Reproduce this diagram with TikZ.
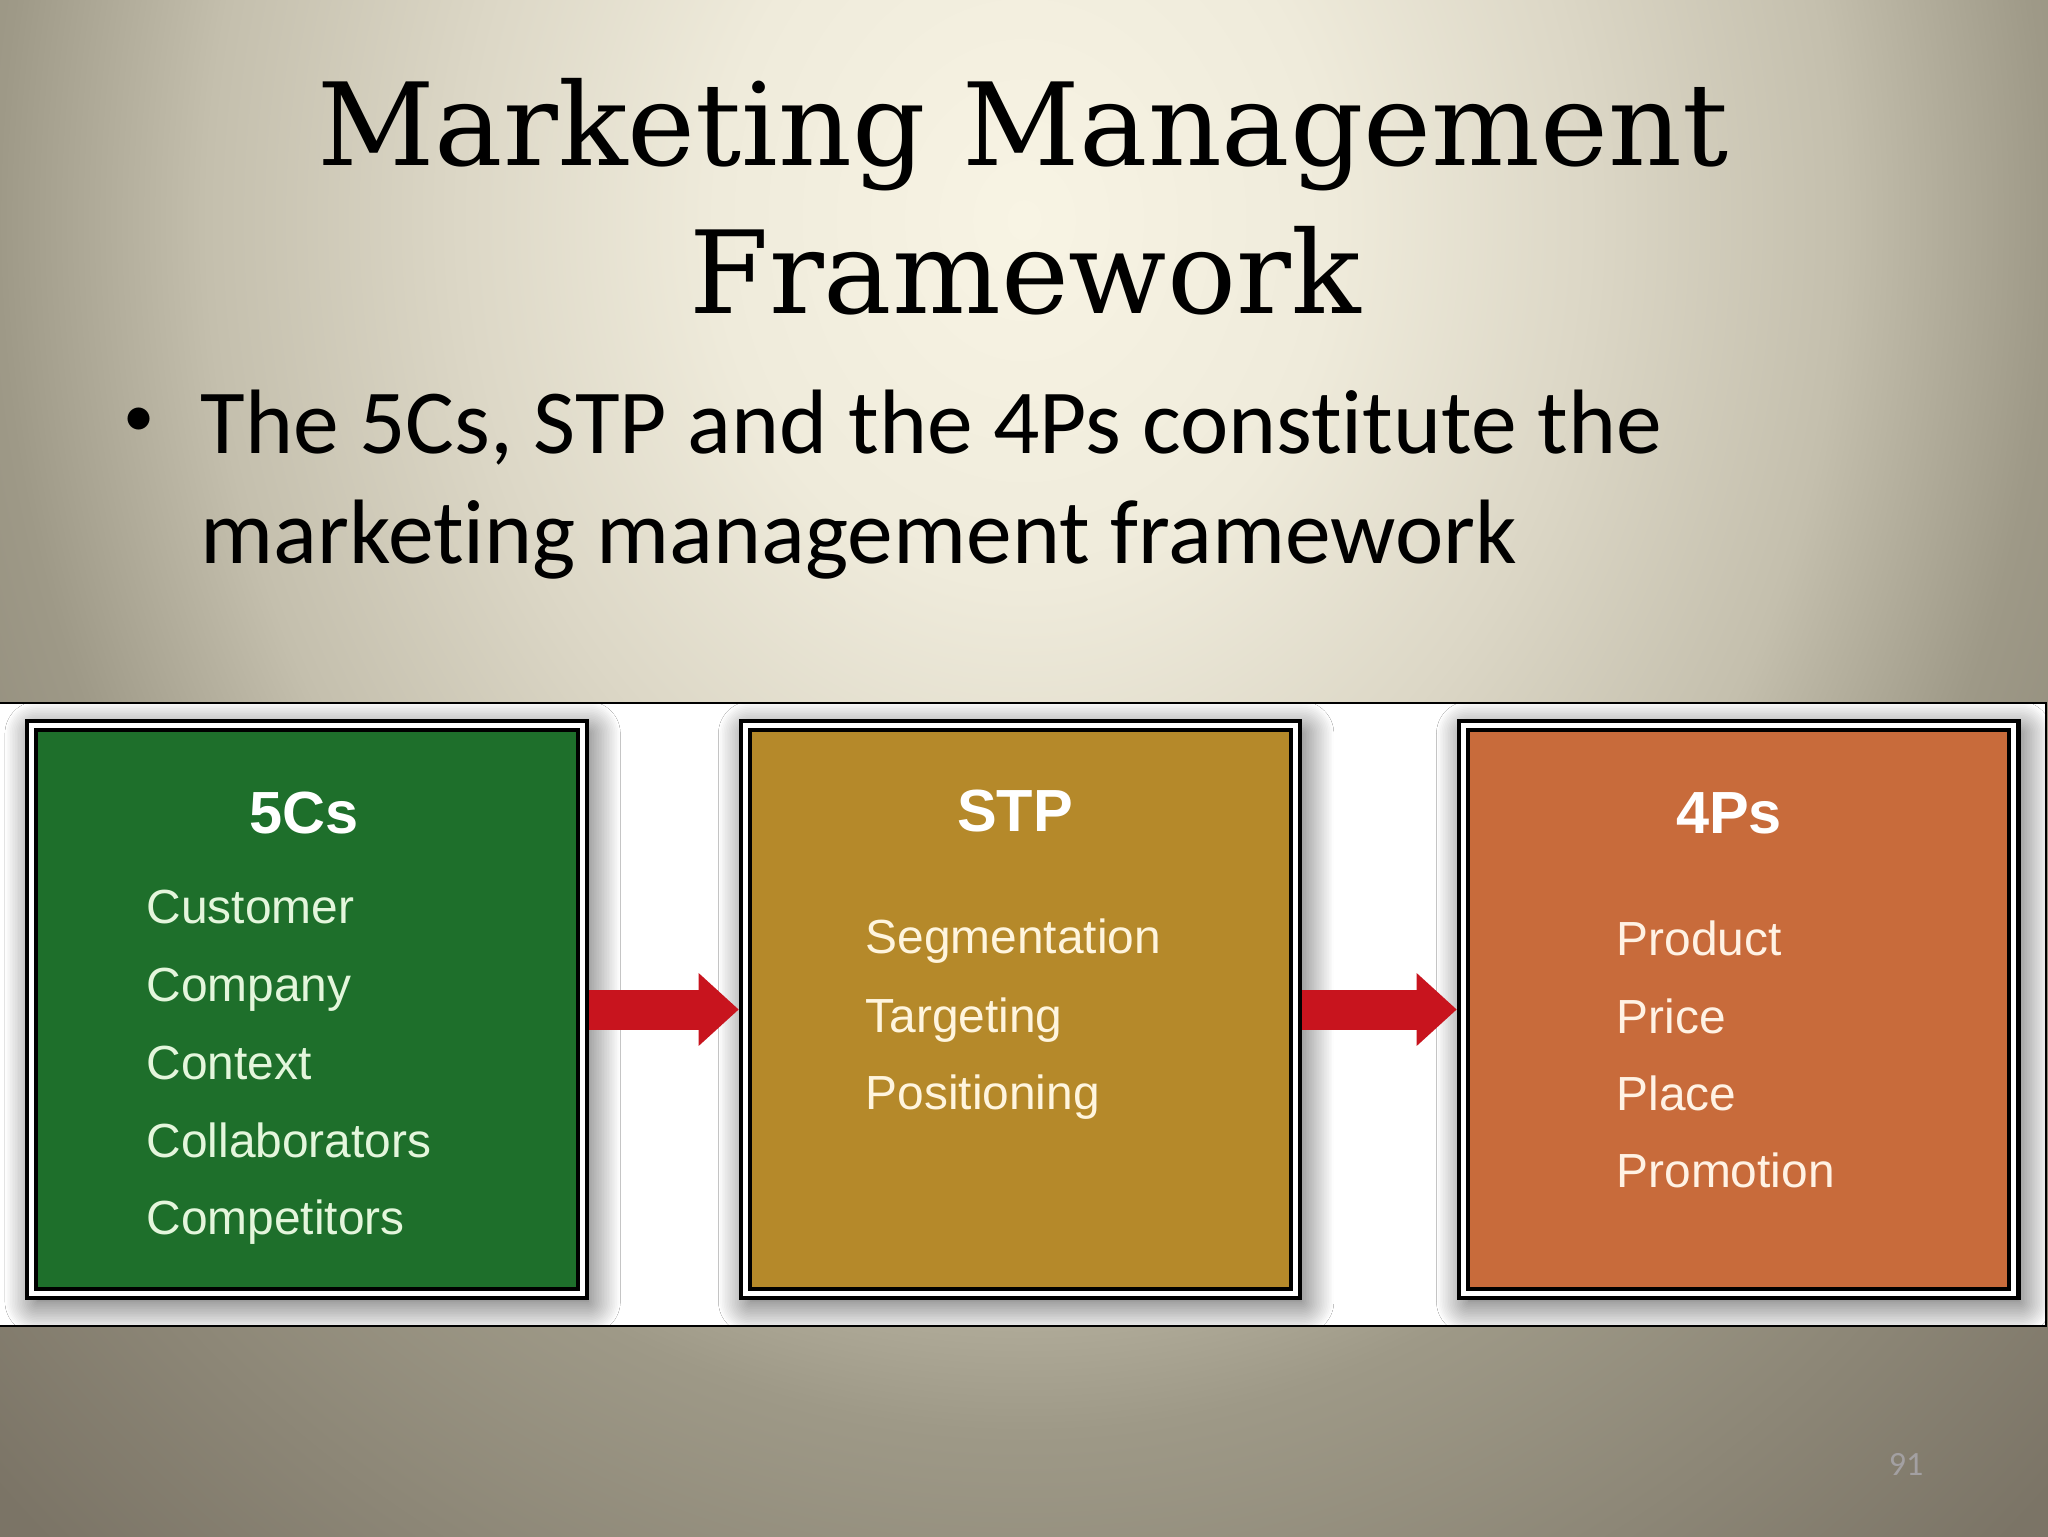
\documentclass[tikz,border=0pt]{standalone}
\usepackage{fontspec}
\usepackage{tikz}
\usetikzlibrary{arrows.meta,shadows.blur}
\newfontfamily\slidefont{Carlito}[Ligatures={NoCommon}]
\newfontfamily\titlefont{DejaVu Serif}
\newfontfamily\boxfont{Liberation Sans}

\definecolor{bgin}{HTML}{F8F4E4}
\definecolor{bgmid}{HTML}{EFEBDB}
\definecolor{bglight}{HTML}{DCD7C6}
\definecolor{bgdim}{HTML}{C4BFAD}
\definecolor{bglow}{HTML}{9E9987}
\definecolor{bgout}{HTML}{7B7466}
\definecolor{csgreen}{HTML}{1E6F2B}
\definecolor{stpgold}{HTML}{B5892A}
\definecolor{psorange}{HTML}{C86B3B}
\definecolor{arrowred}{HTML}{C8141E}
\definecolor{cstext}{HTML}{E4F6DC}
\definecolor{stptext}{HTML}{FFF5DE}
\definecolor{pstext}{HTML}{FFF2E4}
\definecolor{pagegrey}{HTML}{A3A0A2}

\pgfdeclareradialshading{slidebg}{\pgfpoint{0bp}{0bp}}{color(0bp)=(bgin); color(5bp)=(bgmid); color(9.2bp)=(bglight); color(13.3bp)=(bgdim); color(16.7bp)=(bglow); color(24.2bp)=(bgout); color(50bp)=(bgout)}

\begin{document}
\begin{tikzpicture}[x=0.0124023cm, y=-0.0124023cm,
    title/.style={anchor=base, inner sep=0pt, font=\titlefont\fontsize{40.5}{46}\selectfont},
    bullettext/.style={anchor=base west, inner sep=0pt, font=\slidefont\fontsize{32.3}{38}\selectfont},
    framebox/.style={draw=black, line width=0.05cm, double=white, double distance=0.062cm,
        minimum width=6.834cm, minimum height=7.044cm, inner sep=0pt, outer sep=0.08cm,
        blur shadow={shadow xshift=0.07cm, shadow yshift=-0.1cm, shadow blur radius=0.4cm, shadow opacity=75, shadow blur steps=20}},
    header/.style={anchor=base, inner sep=0pt, font=\boxfont\bfseries\fontsize{21}{25}\selectfont},
    item/.style={anchor=base west, inner sep=0pt, font=\boxfont\fontsize{16.9}{20}\selectfont},
    flow/.style={draw=arrowred, line width=0.496cm,
        -{Triangle[length=0.496cm, width=0.905cm, line width=0pt]}}]

        \path[use as bounding box] (0,0) rectangle (2048,1536);
        \begin{scope}
            \clip (0,0) rectangle (2048,1536);
            \shade[shading=slidebg] (1024,220) ellipse [x radius=19.05cm, y radius=22.5cm];
        \end{scope}

        \node[title] (t1) at (1023,166) {Marketing Management};
        \node[title] (t2) at (1025,313) {Framework};

        \node[inner sep=0pt, font=\slidefont\fontsize{22}{26}\selectfont] (dot) at (139,422) {•};
        \node[bullettext] (b1) at (200,453) {The 5Cs, STP and the 4Ps constitute the};
        \node[bullettext] (b2) at (200,563) {marketing management framework};

        \draw[fill=white, line width=0.025cm] (-10,703) rectangle (2046,1326);

        \begin{scope}
            \clip (0,704) rectangle (2045,1325);
            \node[framebox, fill=csgreen] (cs) at (307,1009.5) {};
            \node[framebox, fill=stpgold] (stp) at (1020.5,1009.5) {};
            \node[framebox, fill=psorange] (ps) at (1738.5,1009.5) {};
        \end{scope}

        \draw[flow] (cs.east) -- (stp.west);
        \draw[flow] (stp.east) -- (ps.west);

        \node[header, text=white] (csh) at (304,833) {5Cs};
        \node[item, text=cstext] (cs1) at (146,923) {Customer};
        \node[item, text=cstext] (cs2) at (146,1001) {Company};
        \node[item, text=cstext] (cs3) at (146,1079) {Context};
        \node[item, text=cstext] (cs4) at (146,1157) {Collaborators};
        \node[item, text=cstext] (cs5) at (146,1234) {Competitors};

        \node[header, text=white] (stph) at (1015,831) {STP};
        \node[item, text=stptext] (stp1) at (865,953) {Segmentation};
        \node[item, text=stptext] (stp2) at (865,1032) {Targeting};
        \node[item, text=stptext] (stp3) at (865,1109) {Positioning};

        \node[header, text=white] (psh) at (1729,833) {4Ps};
        \node[item, text=pstext] (ps1) at (1616,955) {Product};
        \node[item, text=pstext] (ps2) at (1616,1033) {Price};
        \node[item, text=pstext] (ps3) at (1616,1110) {Place};
        \node[item, text=pstext] (ps4) at (1616,1187) {Promotion};

        \node[anchor=base, inner sep=0pt, text=pagegrey, font=\slidefont\fontsize{12}{14}\selectfont] (num) at (1906,1475) {91};
    \end{tikzpicture}
\end{document}
